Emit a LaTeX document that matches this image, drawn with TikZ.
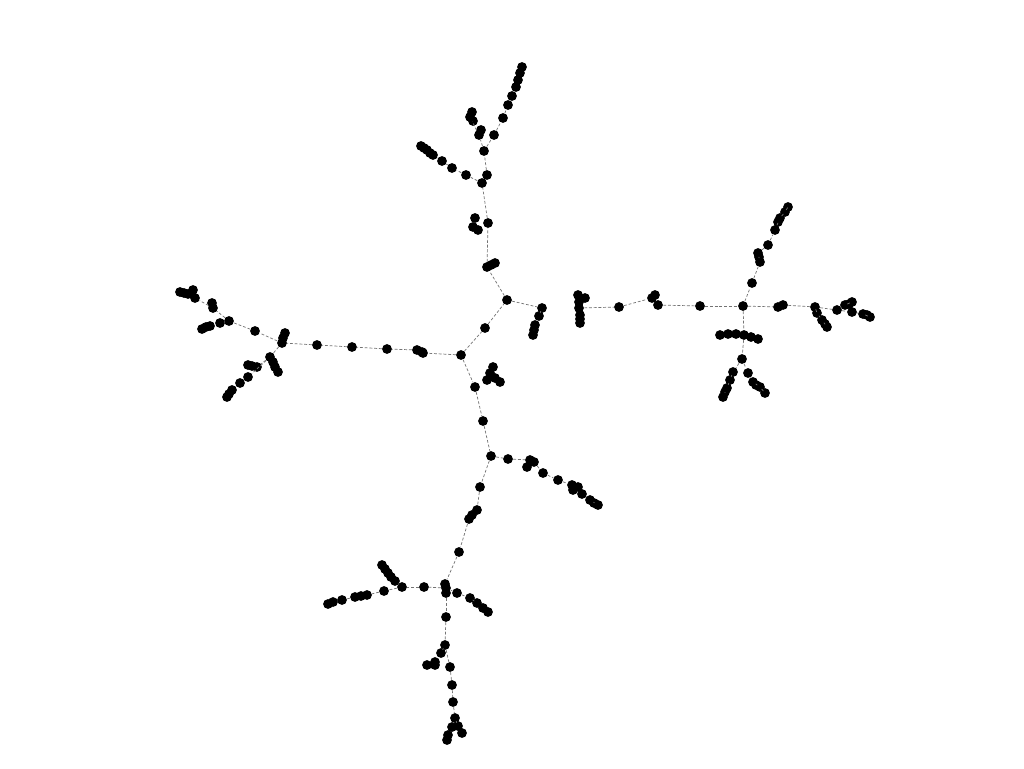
\documentclass[tikz,border=0pt]{standalone}
\begin{document}
\begin{tikzpicture}[x=0.02cm,y=-0.02cm,
  dot/.style={circle,fill=black,draw=none,inner sep=0pt,minimum size=0.196cm},
  edge/.style={draw=black!55,line width=0.4pt,dash pattern=on 1.6pt off 1.1pt}]
\useasboundingbox[fill=white] (0,0) rectangle (1024,768);
\foreach \n/\x/\y in {
 H/461/355, u1/485/328, J1/507/300,
 r1/542/308, r2/539/316, r3/535/325, r4b/534/330, r4/533/335,
 c1/578/295, c2/585/298, c6/579/302, c3/579/308, c4/580/315, c7/580/319, c5/580/323,
 e1/619/307, e2a/652/298, e2b/655/295, e2c/658/305, e3/700/306, J2/743/306,
 f1/778/307, f2/783/305, g1/815/307, g2/817/313, g3/822/320, g5/825/324, g4/827/327,
 h1/837/310, h2/845/305, h7/849/304, h3/852/302, h4/852/312, h5/863/314, h8/867/315, h6/870/317,
 k1/752/283, k2/760/262, k3b/759/257, k3/758/253, k4/768/245, k5/775/230, k6b/778/222, k6/780/218, k7/785/212, k8/788/207,
 m1/720/335, m2/728/334, m3/736/334, m4/744/335, m5/751/337, m6/758/339,
 n0/742/359, n1/733/372, n2/730/380, n3/727/388, n3b/725/392, n4/723/397,
 p1/748/373, p2/753/382, p2b/756/385, p3/760/387, p4/765/393,
 v1/487/267, v2/495/263, v3/491/265,
 w1/488/223, w2/475/218, w3/473/227, w4/478/230,
 x1/482/183, x2/487/175, J3/484/151,
 y1/479/135, y2/481/130, y3/470/117, y4/472/112, y5/473/121,
 z1/494/135, z2/503/118, z3/508/105, z4/512/96, z5/516/87, z6/518/80, z7/520/73, z8/522/67,
 q1/466/175, q2/452/168, q3/442/161, q4/433/155, q4b/430/153, q5/427/150, q5b/424/148, q6/421/146,
 L1/422/352, L2/417/350, L3/423/353, L4/387/349, L5/352/347, L6/317/345,
 J4/282/343, J4b/285/333, J4c/283/338,
 s1/255/331, s2/229/321, s3/220/323, s4/210/326, s4b/206/327, s5/202/329,
 t1/212/303, t2/213/308, t3/195/298, t4/193/290, t5/188/294, t7/184/293, t6/180/292,
 o1/270/357, o2b/273/362, o2/275/367, o3/278/372, o4/257/367, o5/248/365, o5b/252/366,
 o6/248/377, o7/240/383, o8/232/390, o8b/229/394, o9/227/397,
 b1/475/387, b2/493/367, b6/490/373, b3/487/380, b4/500/382, b5/495/378,
 b7/483/421, J5/491/456,
 d1/508/459, d2/530/460, d3/527/467, d4/534/462, d5/543/473, d6/558/480, d7/572/485, d8/578/487, d9/573/490,
 d10/582/494, d11/590/500, d12b/594/503, d12/598/505,
 i1/480/487, i2/477/510, i3/472/515, i4/469/519, i5/459/552,
 J6/446/588, J6a/445/584, J6b/446/593,
 a1/457/593, a2/470/598, a3/477/603, a4/483/608, a5/488/612,
 l1/424/587, l2/402/587, l3/395/581, l4b/391/577, l4/388/573, l3b/385/569, l5/382/565,
 l6/384/591, l7/367/595, l7b/361/596, l8/355/597, l9/342/600, l10/333/602, l11/328/604,
 j1/446/617, j2/445/645, j3/441/653, j4/435/662, j5/427/665, j6/435/665,
 j7/450/667, j8/452/685, j9/453/702, j10/455/718, j11/452/727, j12/448/735, j13/447/740, j14/458/726, j15/462/733}
 \node[dot] (\n) at (\x,\y) {};
\foreach \a/\b in {
 H/u1, u1/J1, J1/r1, r1/r2, r2/r3, r3/r4,
 c3/e1, e1/e2a, e2c/e3, e3/J2, J2/f1, f2/g1, g1/g2, g2/g3, g3/g4, g1/h1, h1/h2, h2/h3, h1/h4, h4/h5, h5/h6,
 J2/k1, k1/k2, k2/k3, k3/k4, k4/k5, k5/k6, k6/k7, k7/k8,
 J2/m4, m4/n0, n0/n1, n1/n2, n2/n3, n3/n4, n0/p1, p1/p2, p2/p3, p3/p4,
 J1/v1, v1/w1, w1/x1, x2/J3, J3/y1, y1/y3, J3/z1, z1/z2, z2/z3, z3/z4, z4/z5,
 x1/q1, q1/q2, q2/q3, q3/q4,
 H/L3, L2/L4, L4/L5, L5/L6, L6/J4, J4/s1, s1/s2, s2/s3, s2/t2, t2/t3,
 J4/o1, o1/o4, o1/o6, o6/o7, o7/o8,
 H/b1, b1/b7, b7/J5, J5/d1, d1/d2, d4/d5, d5/d6, d6/d7, d9/d10, d10/d11, d11/d12,
 J5/i1, i1/i2, i4/i5, i5/J6a, J6/a1, a1/a2, a2/a3, J6/l1, l1/l2, l2/l3, l2/l6, l6/l7, l8/l9,
 J6b/j1, j1/j2, j2/j3, j2/j7, j7/j8, j8/j9, j9/j10, j10/j11, j10/j14}
 \draw[edge] (\a) -- (\b);
\end{tikzpicture}
\end{document}
